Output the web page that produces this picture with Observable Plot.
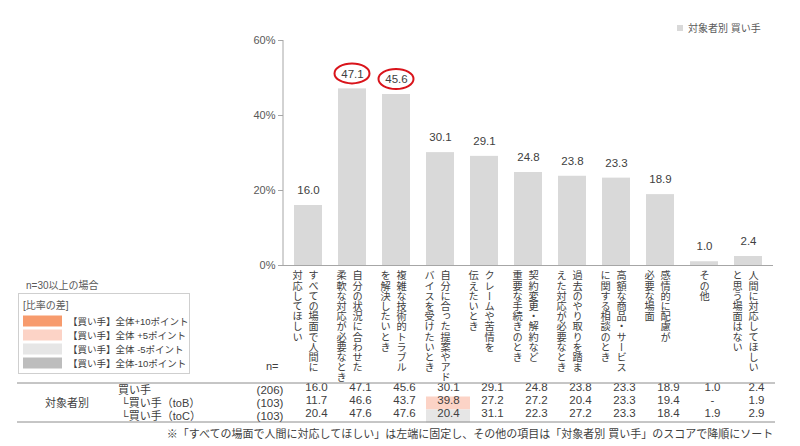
<!DOCTYPE html>
<html><head><meta charset="utf-8">
<script src="https://cdn.jsdelivr.net/npm/d3@7"></script>
<script src="https://cdn.jsdelivr.net/npm/@observablehq/plot@0.6"></script>
<style>
body{margin:0;background:#fff;}
#wrap{position:relative;width:800px;height:446px;overflow:hidden;}
</style>
</head><body><div id="wrap"></div>
<script>
// ---- data ----
const labelRight = ["すべての場面で人間に","自分の状況に合わせた","複雑な技術的トラブル","自分に合った提案やアド","クレームや苦情を","契約変更・解約など","過去のやり取りを踏ま","高額な商品・サービス","感情的に配慮が","その他","人間に対応してほしい"];
const labelLeft  = ["対応してほしい","柔軟な対応が必要なとき","を解決したいとき","バイスを受けたいとき","伝えたいとき","重要な手続きのとき","えた対応が必要なとき","に関する相談のとき","必要な場面","","と思う場面はない"];
const categories = labelRight.map((r,i)=>r+labelLeft[i]);
const buyer    = [16.0,47.1,45.6,30.1,29.1,24.8,23.8,23.3,18.9,1.0,2.4];
const buyerToB = [11.7,46.6,43.7,39.8,27.2,27.2,20.4,23.3,19.4,null,1.9];
const buyerToC = [20.4,47.6,47.6,20.4,31.1,22.3,27.2,23.3,18.4,1.9,2.9];
const rowNames = ["買い手","└買い手（toB）","└買い手（toC）"];
const rowN = ["(206)","(103)","(103)"];
const yTicks = [0,20,40,60];
const circledIdx = [1,2];
const diffLabels = ["【買い手】全体+10ポイント","【買い手】全体 +5ポイント","【買い手】全体 -5ポイント","【買い手】全体-10ポイント"];
const diffColors = ["#f79b6d","#fcd3c6","#e6e6e6","#bdbdbd"];
const highlights = [{row:1, idx:3, color:"#fcd3c6"},{row:2, idx:3, color:"#e6e6e6"}];
const seriesName = "対象者別 買い手";
const groupName = "対象者別";
const footnote = "※「すべての場面で人間に対応してほしい」は左端に固定し、その他の項目は「対象者別 買い手」のスコアで降順にソート";

// ---- build ----
const font = "'Liberation Sans','Noto Sans CJK JP',sans-serif";
const cjk = "'Noto Sans CJK JP',sans-serif";
const fmt = v => v == null ? "-" : v.toFixed(1);
const data = categories.map((c,i)=>({cat:c, v:buyer[i], r:labelRight[i], l:labelLeft[i], b:buyerToB[i], c2:buyerToC[i]}));
const twoCol = data.filter(d=>d.l !== "");
const oneCol = data.filter(d=>d.l === "");
const circled = circledIdx.map(i=>data[i]);

const rowY = [125, 138, 151];
const tableDx = 8;

const chart = Plot.plot({
  width:800, height:446,
  marginLeft:283, marginRight:27, marginTop:40, marginBottom:181,
  style:{fontFamily:font, fontSize:"11px", color:"#404040", background:"#fff", overflow:"visible"},
  x:{domain:categories, paddingInner:0.37, paddingOuter:0.185, axis:null},
  y:{domain:[0,60], axis:null},
  marks:[
    Plot.barY(data,{x:"cat", y:"v", fill:"#d9d9d9"}),
    Plot.ruleY([0],{stroke:"#a6a6a6"}),
    Plot.axisY({ticks:yTicks, tickFormat:d=>d+"%", tickSize:5, tickPadding:3, stroke:"#a6a6a6", fill:"#595959", fontSize:11, label:null}),
    Plot.text(data,{x:"cat", y:"v", text:d=>fmt(d.v), dy:-15, fill:"#404040", fontSize:11.5}),
    Plot.text(twoCol,{x:"cat", frameAnchor:"bottom", text:"r", dx:5, dy:5, textAnchor:"start", lineAnchor:"bottom", fontSize:10.2, fill:"#404040", fontFamily:cjk}),
    Plot.text(twoCol,{x:"cat", frameAnchor:"bottom", text:"l", dx:-11, dy:5, textAnchor:"start", lineAnchor:"bottom", fontSize:10.2, fill:"#404040", fontFamily:cjk}),
    Plot.text(oneCol,{x:"cat", frameAnchor:"bottom", text:"r", dx:0, dy:5, textAnchor:"start", lineAnchor:"bottom", fontSize:10.2, fill:"#404040", fontFamily:cjk}),
    Plot.text(data,{x:"cat", frameAnchor:"bottom", text:d=>fmt(d.v), dx:tableDx, dy:rowY[0], fill:"#404040", fontSize:11.5}),
    Plot.text(data,{x:"cat", frameAnchor:"bottom", text:d=>fmt(d.b), dx:tableDx, dy:rowY[1], fill:"#404040", fontSize:11.5}),
    Plot.text(data,{x:"cat", frameAnchor:"bottom", text:d=>fmt(d.c2), dx:tableDx, dy:rowY[2], fill:"#404040", fontSize:11.5})
  ]
});

document.getElementById("wrap").appendChild(chart);
const svg = d3.select(chart);
const xs = chart.scale("x"), ys = chart.scale("y");
const bw = xs.bandwidth, step = xs.step || bw/(1-0.37);
const cx = c => xs.apply(c) + bw/2;

// vertical labels
const textGroups = chart.querySelectorAll('g[aria-label="text"]');
[1,2,3].forEach(k=>{
  d3.select(textGroups[k]).selectAll("text").style("writing-mode","vertical-rl").style("text-orientation","mixed");
});

// axis vertical line
svg.append("line").attr("x1",283).attr("x2",283).attr("y1",ys.apply(0)).attr("y2",ys.apply(60)).attr("stroke","#a6a6a6");

// red ellipses
circled.forEach(d=>{
  svg.append("ellipse").attr("cx",cx(d.cat)).attr("cy",ys.apply(d.v)-15).attr("rx",17.5).attr("ry",10)
    .attr("fill","none").attr("stroke","#d9141b").attr("stroke-width",2);
});

// highlighted cells (behind text)
const tableTop = 383, rowH = 13;
highlights.forEach(h=>{
  const c = categories[h.idx];
  svg.insert("rect", 'g[aria-label="text"]').attr("x", cx(c) + tableDx - step/2).attr("width", step)
    .attr("y", tableTop + 0.5 + rowH*h.row).attr("height", rowH).attr("fill", h.color);
});

// table lines
[383, 422].forEach(y=>svg.append("line").attr("x1",17).attr("x2",775).attr("y1",y).attr("y2",y).attr("stroke","#8c8c8c").attr("stroke-width",1));

const t = (x,y,s,opts={}) => svg.append("text").attr("x",x).attr("y",y).text(s)
  .attr("font-family",opts.family||font).attr("font-size",opts.size||11).attr("fill",opts.fill||"#404040")
  .attr("text-anchor",opts.anchor||"start").attr("dominant-baseline","central");

t(266,366,"n=");
t(67,403,groupName,{anchor:"middle"});
rowNames.forEach((r,i)=>{
  t(i===0?118:121, 390+13*i, r);
  t(270, 390+13*i, rowN[i], {anchor:"middle", size:11.5});
});
t(470,434,footnote,{anchor:"middle",size:11});

// top-right legend
svg.append("rect").attr("x",677).attr("y",25).attr("width",6).attr("height",6).attr("fill","#d9d9d9");
t(688,28.5,seriesName,{size:10,fill:"#595959"});

// left legend box
t(26,285,"n=30以上の場合",{size:10,fill:"#595959"});
svg.append("rect").attr("x",18.5).attr("y",293.5).attr("width",171).attr("height",80).attr("fill","#fff").attr("stroke","#cfcfcf");
t(23,305,"[比率の差]",{size:10,fill:"#595959"});
diffLabels.forEach((lab,i)=>{
  const y = 315.5 + i*14;
  svg.append("rect").attr("x",23).attr("y",y).attr("width",39).attr("height",11).attr("fill",diffColors[i]);
  t(68,y+5.5,lab,{size:9.5,fill:"#404040"});
});
</script>
</body></html>
